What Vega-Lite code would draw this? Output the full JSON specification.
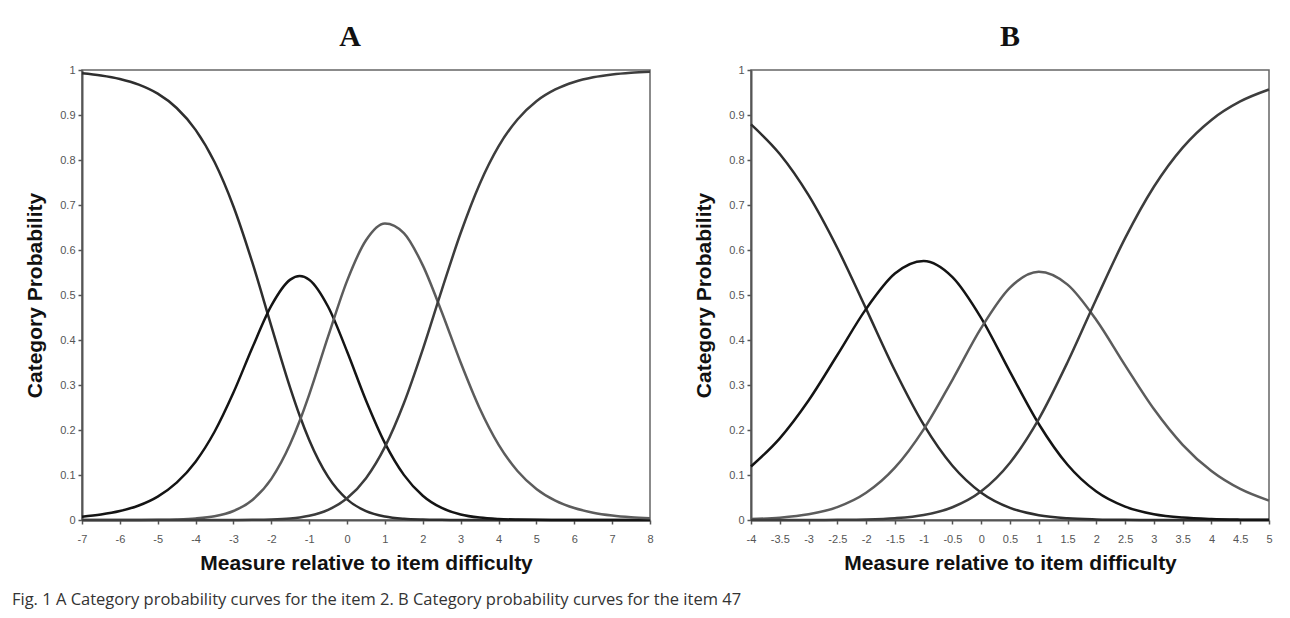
{
"$schema": "https://vega.github.io/schema/vega-lite/v6.json",
"background": "white",
"padding": {"left": 11, "top": 21, "right": 10, "bottom": 5},
"datasets": {
"A": [
{"x":-7,"c":"0","p":0.9926},{"x":-7,"c":"1","p":0.0074},{"x":-7,"c":"2","p":0.0},{"x":-7,"c":"3","p":0},
{"x":-6.5,"c":"0","p":0.9878},{"x":-6.5,"c":"1","p":0.0121},{"x":-6.5,"c":"2","p":0.0},{"x":-6.5,"c":"3","p":0},
{"x":-6,"c":"0","p":0.9801},{"x":-6,"c":"1","p":0.0198},{"x":-6,"c":"2","p":0.0001},{"x":-6,"c":"3","p":0},
{"x":-5.5,"c":"0","p":0.9675},{"x":-5.5,"c":"1","p":0.0323},{"x":-5.5,"c":"2","p":0.0002},{"x":-5.5,"c":"3","p":0},
{"x":-5,"c":"0","p":0.9474},{"x":-5,"c":"1","p":0.0521},{"x":-5,"c":"2","p":0.0005},{"x":-5,"c":"3","p":0},
{"x":-4.5,"c":"0","p":0.9156},{"x":-4.5,"c":"1","p":0.0831},{"x":-4.5,"c":"2","p":0.0013},{"x":-4.5,"c":"3","p":0},
{"x":-4,"c":"0","p":0.867},{"x":-4,"c":"1","p":0.1297},{"x":-4,"c":"2","p":0.0034},{"x":-4,"c":"3","p":0},
{"x":-3.5,"c":"0","p":0.7954},{"x":-3.5,"c":"1","p":0.1961},{"x":-3.5,"c":"2","p":0.0084},{"x":-3.5,"c":"3","p":0},
{"x":-3,"c":"0","p":0.6967},{"x":-3,"c":"1","p":0.2832},{"x":-3,"c":"2","p":0.02},{"x":-3,"c":"3","p":0.0001},
{"x":-2.5,"c":"0","p":0.5718},{"x":-2.5,"c":"1","p":0.3833},{"x":-2.5,"c":"2","p":0.0446},{"x":-2.5,"c":"3","p":0.0003},
{"x":-2,"c":"0","p":0.431},{"x":-2,"c":"1","p":0.4764},{"x":-2,"c":"2","p":0.0915},{"x":-2,"c":"3","p":0.0011},
{"x":-1.5,"c":"0","p":0.2932},{"x":-1.5,"c":"1","p":0.5342},{"x":-1.5,"c":"2","p":0.1692},{"x":-1.5,"c":"3","p":0.0034},
{"x":-1.25,"c":"0","p":0.2317},{"x":-1.25,"c":"1","p":0.5421},{"x":-1.25,"c":"2","p":0.2204},{"x":-1.25,"c":"3","p":0.0057},
{"x":-1,"c":"0","p":0.1778},{"x":-1,"c":"1","p":0.5341},{"x":-1,"c":"2","p":0.2788},{"x":-1,"c":"3","p":0.0093},
{"x":-0.5,"c":"0","p":0.0957},{"x":-0.5,"c":"1","p":0.4739},{"x":-0.5,"c":"2","p":0.4079},{"x":-0.5,"c":"3","p":0.0224},
{"x":0,"c":"0","p":0.0459},{"x":0,"c":"1","p":0.3745},{"x":0,"c":"2","p":0.5314},{"x":0,"c":"3","p":0.0482},
{"x":0.5,"c":"0","p":0.0197},{"x":0.5,"c":"1","p":0.2657},{"x":0.5,"c":"2","p":0.6216},{"x":0.5,"c":"3","p":0.093},
{"x":1,"c":"0","p":0.0077},{"x":1,"c":"1","p":0.1708},{"x":1,"c":"2","p":0.659},{"x":1,"c":"3","p":0.1625},
{"x":1.5,"c":"0","p":0.0027},{"x":1.5,"c":"1","p":0.1003},{"x":1.5,"c":"2","p":0.6377},{"x":1.5,"c":"3","p":0.2593},
{"x":2,"c":"0","p":0.0009},{"x":2,"c":"1","p":0.054},{"x":2,"c":"2","p":0.5658},{"x":2,"c":"3","p":0.3793},
{"x":2.5,"c":"0","p":0.0003},{"x":2.5,"c":"1","p":0.0267},{"x":2.5,"c":"2","p":0.4622},{"x":2.5,"c":"3","p":0.5108},
{"x":3,"c":"0","p":0.0001},{"x":3,"c":"1","p":0.0123},{"x":3,"c":"2","p":0.35},{"x":3,"c":"3","p":0.6377},
{"x":3.5,"c":"0","p":0},{"x":3.5,"c":"1","p":0.0053},{"x":3.5,"c":"2","p":0.2484},{"x":3.5,"c":"3","p":0.7463},
{"x":4,"c":"0","p":0},{"x":4,"c":"1","p":0.0022},{"x":4,"c":"2","p":0.1676},{"x":4,"c":"3","p":0.8302},
{"x":4.5,"c":"0","p":0},{"x":4.5,"c":"1","p":0.0009},{"x":4.5,"c":"2","p":0.109},{"x":4.5,"c":"3","p":0.8901},
{"x":5,"c":"0","p":0},{"x":5,"c":"1","p":0.0003},{"x":5,"c":"2","p":0.0691},{"x":5,"c":"3","p":0.9306},
{"x":5.5,"c":"0","p":0},{"x":5.5,"c":"1","p":0.0001},{"x":5.5,"c":"2","p":0.0431},{"x":5.5,"c":"3","p":0.9568},
{"x":6,"c":"0","p":0},{"x":6,"c":"1","p":0},{"x":6,"c":"2","p":0.0266},{"x":6,"c":"3","p":0.9734},
{"x":6.5,"c":"0","p":0},{"x":6.5,"c":"1","p":0},{"x":6.5,"c":"2","p":0.0163},{"x":6.5,"c":"3","p":0.9837},
{"x":7,"c":"0","p":0},{"x":7,"c":"1","p":0},{"x":7,"c":"2","p":0.01},{"x":7,"c":"3","p":0.99},
{"x":7.5,"c":"0","p":0},{"x":7.5,"c":"1","p":0},{"x":7.5,"c":"2","p":0.0061},{"x":7.5,"c":"3","p":0.9939},
{"x":8,"c":"0","p":0},{"x":8,"c":"1","p":0},{"x":8,"c":"2","p":0.0037},{"x":8,"c":"3","p":0.9963}
],
"B": [
{"x":-4,"c":"0","p":0.879},{"x":-4,"c":"1","p":0.119},{"x":-4,"c":"2","p":0.0021},{"x":-4,"c":"3","p":0},
{"x":-3.5,"c":"0","p":0.8133},{"x":-3.5,"c":"1","p":0.1815},{"x":-3.5,"c":"2","p":0.0052},{"x":-3.5,"c":"3","p":0},
{"x":-3,"c":"0","p":0.7218},{"x":-3,"c":"1","p":0.2655},{"x":-3,"c":"2","p":0.0126},{"x":-3,"c":"3","p":0.0001},
{"x":-2.5,"c":"0","p":0.6044},{"x":-2.5,"c":"1","p":0.3666},{"x":-2.5,"c":"2","p":0.0286},{"x":-2.5,"c":"3","p":0.0004},
{"x":-2,"c":"0","p":0.4692},{"x":-2,"c":"1","p":0.4692},{"x":-2,"c":"2","p":0.0604},{"x":-2,"c":"3","p":0.0012},
{"x":-1.5,"c":"0","p":0.3322},{"x":-1.5,"c":"1","p":0.5477},{"x":-1.5,"c":"2","p":0.1162},{"x":-1.5,"c":"3","p":0.0039},
{"x":-1,"c":"0","p":0.2118},{"x":-1,"c":"1","p":0.5757},{"x":-1,"c":"2","p":0.2015},{"x":-1,"c":"3","p":0.0111},
{"x":-0.5,"c":"0","p":0.1205},{"x":-0.5,"c":"1","p":0.5398},{"x":-0.5,"c":"2","p":0.3115},{"x":-0.5,"c":"3","p":0.0283},
{"x":0,"c":"0","p":0.0607},{"x":0,"c":"1","p":0.4487},{"x":0,"c":"2","p":0.4268},{"x":0,"c":"3","p":0.0638},
{"x":0.5,"c":"0","p":0.027},{"x":0.5,"c":"1","p":0.3292},{"x":0.5,"c":"2","p":0.5164},{"x":0.5,"c":"3","p":0.1273},
{"x":1,"c":"0","p":0.0106},{"x":1,"c":"1","p":0.2134},{"x":1,"c":"2","p":0.5517},{"x":1,"c":"3","p":0.2243},
{"x":1.5,"c":"0","p":0.0037},{"x":1.5,"c":"1","p":0.1227},{"x":1.5,"c":"2","p":0.523},{"x":1.5,"c":"3","p":0.3506},
{"x":2,"c":"0","p":0.0012},{"x":2,"c":"1","p":0.0632},{"x":2,"c":"2","p":0.4444},{"x":2,"c":"3","p":0.4912},
{"x":2.5,"c":"0","p":0.0003},{"x":2.5,"c":"1","p":0.0297},{"x":2.5,"c":"2","p":0.3437},{"x":2.5,"c":"3","p":0.6263},
{"x":3,"c":"0","p":0.0001},{"x":3,"c":"1","p":0.0129},{"x":3,"c":"2","p":0.2465},{"x":3,"c":"3","p":0.7405},
{"x":3.5,"c":"0","p":0},{"x":3.5,"c":"1","p":0.0053},{"x":3.5,"c":"2","p":0.1671},{"x":3.5,"c":"3","p":0.8276},
{"x":4,"c":"0","p":0},{"x":4,"c":"1","p":0.0021},{"x":4,"c":"2","p":0.1089},{"x":4,"c":"3","p":0.8891},
{"x":4.5,"c":"0","p":0},{"x":4.5,"c":"1","p":0.0008},{"x":4.5,"c":"2","p":0.0691},{"x":4.5,"c":"3","p":0.9301},
{"x":5,"c":"0","p":0},{"x":5,"c":"1","p":0.0003},{"x":5,"c":"2","p":0.0431},{"x":5,"c":"3","p":0.9566}
]
},
"title": {"text": "Fig. 1 A Category probability curves for the item 2. B Category probability curves for the item 47", "orient": "bottom", "anchor": "start", "frame": "bounds", "font": "Open Sans", "fontSize": 16.5, "fontWeight": "normal", "color": "#333333", "offset": 18, "dx": -12},
"spacing": 101,
"bounds": "flush",
"hconcat": [
{
"width": 568, "height": 450,
"data": {"name": "A"},
"title": {"text": "A", "font": "Liberation Serif", "fontSize": 30, "fontWeight": "bold", "color": "#111111", "offset": 12, "dx": -16, "anchor": "middle"},
"mark": {"type": "line", "interpolate": "monotone", "strokeWidth": 2.5},
"encoding": {
"x": {"field": "x", "type": "quantitative", "scale": {"domain": [-7, 8], "nice": false, "zero": false}, "axis": {"values": [-7,-6,-5,-4,-3,-2,-1,0,1,2,3,4,5,6,7,8], "title": "Measure relative to item difficulty"}},
"y": {"field": "p", "type": "quantitative", "scale": {"domain": [0, 1], "nice": false}, "axis": {"values": [0,0.1,0.2,0.3,0.4,0.5,0.6,0.7,0.8,0.9,1], "title": "Category Probability"}},
"color": {"field": "c", "type": "nominal", "scale": {"domain": ["0","1","2","3"], "range": ["#2e2e2e","#141414","#5c5c5c","#3d3d3d"]}, "legend": null}
}
},
{
"width": 518, "height": 450,
"data": {"name": "B"},
"title": {"text": "B", "font": "Liberation Serif", "fontSize": 30, "fontWeight": "bold", "color": "#111111", "offset": 12, "anchor": "middle"},
"mark": {"type": "line", "interpolate": "monotone", "strokeWidth": 2.5},
"encoding": {
"x": {"field": "x", "type": "quantitative", "scale": {"domain": [-4, 5], "nice": false, "zero": false}, "axis": {"values": [-4,-3.5,-3,-2.5,-2,-1.5,-1,-0.5,0,0.5,1,1.5,2,2.5,3,3.5,4,4.5,5], "title": "Measure relative to item difficulty"}},
"y": {"field": "p", "type": "quantitative", "scale": {"domain": [0, 1], "nice": false}, "axis": {"values": [0,0.1,0.2,0.3,0.4,0.5,0.6,0.7,0.8,0.9,1], "title": "Category Probability"}},
"color": {"field": "c", "type": "nominal", "scale": {"domain": ["0","1","2","3"], "range": ["#2e2e2e","#141414","#5c5c5c","#3d3d3d"]}, "legend": null}
}
}
],
"config": {
"view": {"stroke": "#666666", "strokeWidth": 1.5},
"axis": {"grid": false, "domainColor": "#555555", "domainWidth": 2, "tickColor": "#555555", "tickWidth": 1.5, "tickSize": 4, "labelFont": "Liberation Sans", "labelFontSize": 11, "labelColor": "#555555", "labelExpr": "'' + datum.value", "titleFont": "Liberation Sans", "titleFontSize": 21, "titleFontWeight": "bold", "titleColor": "#111111"},
"axisX": {"labelPadding": 9, "titlePadding": 8, "labelFlush": false},
"axisY": {"labelPadding": 3, "titlePadding": 14}
}
}
